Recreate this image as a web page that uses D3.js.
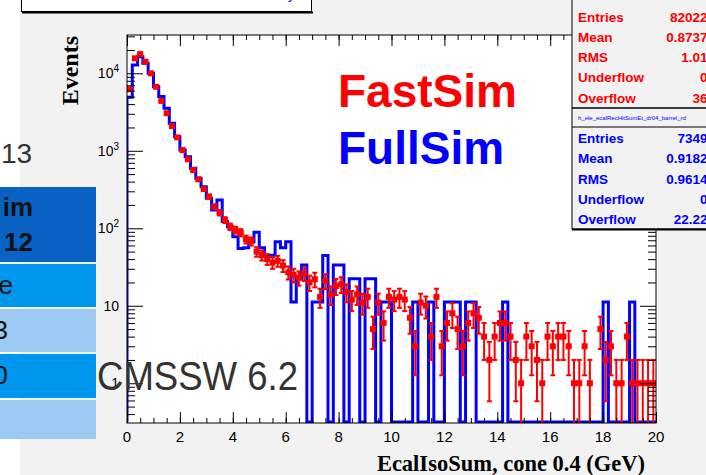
<!DOCTYPE html>
<html>
<head>
<meta charset="utf-8">
<script src="https://cdn.jsdelivr.net/npm/d3@7"></script>
<style>
  body { margin: 0; background: #fff; }
  svg { display: block; }
</style>
</head>
<body>
<div id="chart"></div>
<script>
// 100 bins of 0.2 GeV between 0 and 20
var binWidth = 0.2;
var xRange = [0, 20];
var yRange = [0.307, 31200];

// FullSim (blue), normalised to FastSim entries
var fullSim = [4900, 12800, 16400, 13500, 10000, 6700, 5000, 3530, 2265, 1520,
               1020, 840, 595, 442, 344, 244, 172, 232, 122, 105,
               78, 55, 56, 67, 89, 56, 45, 45, 67, 56,
               67, 11.2, 22.3, 33.5, 0, 11.2, 11.2, 44.6, 0, 33.5,
               33.5, 0, 22.3, 22.3, 0, 22.3, 22.3, 0, 11.2, 11.2,
               0, 0, 0, 0, 11.2, 0, 0, 11.2, 0, 0,
               11.2, 11.2, 11.2, 0, 11.2, 11.2, 0, 0, 0, 0,
               0, 11.2, 0, 0, 0, 0, 0, 0, 0, 0,
               0, 0, 0, 0, 0, 0, 0, 0, 0, 0,
               11.2, 0, 0, 0, 0, 11.2, 0, 0, 0, 0];

// FastSim (red) counts, error = sqrt(N)
var fastSim = [6220, 15600, 17700, 14100, 10000, 6700, 4400, 3050, 2090, 1490,
               1020, 776, 565, 428, 321, 256, 190, 159, 128, 105,
               95, 88, 72, 68, 50, 45, 40, 36, 38, 33,
               27, 25, 23, 26, 20, 22, 13, 21, 14, 18,
               19, 15, 12, 14, 11, 13, 5, 11, 6, 13,
               12, 13, 12, 7, 3, 11, 10, 4, 13, 3,
               6, 8, 5, 3, 6, 8, 7, 4, 2, 4,
               6, 6, 4, 2, 1, 4, 3, 2, 1, 4,
               3, 4, 4, 3, 1, 1, 3, 1, 0, 5,
               2, 3, 1, 1, 4, 1, 1, 1, 1, 1];

var xMajorTicks = [0, 2, 4, 6, 8, 10, 12, 14, 16, 18, 20];
var yMajorTicks = [1, 10, 100, 1000, 10000];
var yTickLabels = [["1", ""], ["10", ""], ["10", "2"], ["10", "3"], ["10", "4"]];

var fastStats = [["Entries", "82022"], ["Mean", "0.8737"], ["RMS", "1.01"], ["Underflow", "0"], ["Overflow", "36"]];
var fullStats = [["Entries", "7349"], ["Mean", "0.9182"], ["RMS", "0.9614"], ["Underflow", "0"], ["Overflow", "22.22"]];
var statsTitle = "h_ele_ecalRecHitSumEt_dr04_barrel_rd";

var W = 706, H = 475;
var frame = { left: 127, right: 656, top: 35, bottom: 423 };
var red = "#ff0000", blue = "#0000ff";
var sans = "'Liberation Sans', Arial, sans-serif";
var serif = "'Liberation Serif', 'Times New Roman', serif";

var svg = d3.select("#chart").append("svg").attr("width", W).attr("height", H);

// slide + ROOT canvas background
svg.append("rect").attr("width", W).attr("height", H).attr("fill", "#fff");
svg.append("rect").attr("x", 20).attr("y", 0).attr("width", W - 20).attr("height", H).attr("fill", "#f2f2f2");

// title box (cut at top)
svg.append("rect").attr("x", 21.5).attr("y", -10).attr("width", 290).attr("height", 21.5)
    .attr("fill", "#fff").attr("stroke", "#000").attr("stroke-width", 1);
svg.append("line").attr("x1", 22).attr("x2", 313).attr("y1", 12.5).attr("y2", 12.5)
    .attr("stroke", "#000").attr("stroke-width", 2);
svg.append("text").attr("x", 288).attr("y", -1).attr("fill", blue)
    .style("font", "14px " + sans).text("y");

// plot area
svg.append("rect").attr("x", frame.left).attr("y", frame.top)
    .attr("width", frame.right - frame.left).attr("height", frame.bottom - frame.top)
    .attr("fill", "#fff");

var x = d3.scaleLinear().domain(xRange).range([frame.left, frame.right]);
var y = d3.scaleLog().domain(yRange).range([frame.bottom, frame.top]);

svg.append("clipPath").attr("id", "clip").append("rect")
    .attr("x", frame.left).attr("y", frame.top)
    .attr("width", frame.right - frame.left).attr("height", frame.bottom - frame.top);

var plot = svg.append("g").attr("clip-path", "url(#clip)");

// blue histogram line
var yb = frame.bottom - 1;
var pts = [[x(0), yb]];
fullSim.forEach(function (v, i) {
    var yy = v > 0 ? y(v) : yb;
    pts.push([x(i * binWidth), yy]);
    pts.push([x((i + 1) * binWidth), yy]);
});
pts.push([x(xRange[1]), yb]);
plot.append("path").attr("d", d3.line()(pts))
    .attr("fill", "none").attr("stroke", blue).attr("stroke-width", 3)
    .attr("stroke-linejoin", "miter");

// red points with errors
var bins = fastSim.map(function (n, i) { return { i: i, n: n }; }).filter(function (d) { return d.n > 0; });
var pg = plot.append("g").attr("stroke", red).attr("stroke-width", 2);
bins.forEach(function (d) {
    var cx = x((d.i + 0.5) * binWidth);
    var cy = y(d.n);
    var e = Math.sqrt(d.n);
    var lo = d.n - e > yRange[0] ? y(d.n - e) : frame.bottom + 2;
    var hi = y(d.n + e);
    pg.append("line").attr("x1", x(d.i * binWidth)).attr("x2", x((d.i + 1) * binWidth))
        .attr("y1", cy).attr("y2", cy);
    pg.append("line").attr("x1", cx).attr("x2", cx).attr("y1", lo).attr("y2", hi);
    pg.append("line").attr("x1", cx - 2.5).attr("x2", cx + 2.5).attr("y1", hi).attr("y2", hi);
    if (lo < frame.bottom) {
        pg.append("line").attr("x1", cx - 2.5).attr("x2", cx + 2.5).attr("y1", lo).attr("y2", lo);
    }
    plot.append("rect").attr("x", cx - 3).attr("y", cy - 3).attr("width", 6).attr("height", 6)
        .attr("fill", red);
});

// axes: ticks on all four sides
var xMinor = d3.range(0, 41).map(function (k) { return k * 0.5; });
var yMinor = [];
[0.1, 1, 10, 100, 1000, 10000].forEach(function (dec) {
    for (var k = 2; k <= 9; k++) {
        var v = dec * k;
        if (v >= yRange[0] && v <= yRange[1]) yMinor.push(v);
    }
});

function axisStyle(g) {
    g.select(".domain").remove();
    g.selectAll("line").attr("stroke", "#000").attr("stroke-width", 1);
}
svg.append("g").attr("transform", "translate(0," + frame.bottom + ")")
    .call(d3.axisTop(x).tickValues(xMinor).tickSize(5).tickFormat("")).call(axisStyle);
svg.append("g").attr("transform", "translate(0," + frame.bottom + ")")
    .call(d3.axisTop(x).tickValues(xMajorTicks).tickSize(11).tickFormat("")).call(axisStyle);
svg.append("g").attr("transform", "translate(0," + frame.top + ")")
    .call(d3.axisBottom(x).tickValues(xMinor).tickSize(5).tickFormat("")).call(axisStyle);
svg.append("g").attr("transform", "translate(0," + frame.top + ")")
    .call(d3.axisBottom(x).tickValues(xMajorTicks).tickSize(11).tickFormat("")).call(axisStyle);
svg.append("g").attr("transform", "translate(" + frame.left + ",0)")
    .call(d3.axisRight(y).tickValues(yMinor).tickSize(8).tickFormat("")).call(axisStyle);
svg.append("g").attr("transform", "translate(" + frame.left + ",0)")
    .call(d3.axisRight(y).tickValues(yMajorTicks).tickSize(16).tickFormat("")).call(axisStyle);
svg.append("g").attr("transform", "translate(" + frame.right + ",0)")
    .call(d3.axisLeft(y).tickValues(yMinor).tickSize(8).tickFormat("")).call(axisStyle);
svg.append("g").attr("transform", "translate(" + frame.right + ",0)")
    .call(d3.axisLeft(y).tickValues(yMajorTicks).tickSize(16).tickFormat("")).call(axisStyle);

svg.append("rect").attr("x", frame.left).attr("y", frame.top)
    .attr("width", frame.right - frame.left).attr("height", frame.bottom - frame.top)
    .attr("fill", "none").attr("stroke", "#000").attr("stroke-width", 1);

// tick labels
svg.append("g").selectAll("text").data(xMajorTicks).enter().append("text")
    .attr("x", function (d) { return x(d); }).attr("y", 442)
    .attr("text-anchor", "middle").style("font", "15px " + sans).text(function (d) { return d; });

yMajorTicks.forEach(function (v, i) {
    var t = svg.append("text").attr("x", 119).attr("y", y(v) + 5)
        .attr("text-anchor", "end").style("font", "14px " + sans);
    t.append("tspan").text(yTickLabels[i][0]);
    if (yTickLabels[i][1]) {
        t.append("tspan").attr("dy", -6).style("font-size", "10px").text(yTickLabels[i][1]);
    }
});

// axis titles
svg.append("text").attr("x", 645).attr("y", 471).attr("text-anchor", "end")
    .style("font", "bold 22.5px " + serif).text("EcalIsoSum, cone 0.4 (GeV)");
svg.append("text").attr("transform", "translate(78," + (frame.top + 1) + ") rotate(-90)")
    .attr("text-anchor", "end").style("font", "bold 24px " + serif).text("Events");

// legend-like labels
svg.append("text").attr("x", 338).attr("y", 107).attr("fill", red)
    .style("font", "bold 46px " + sans).text("FastSim");
svg.append("text").attr("x", 338).attr("y", 164).attr("fill", blue)
    .style("font", "bold 46px " + sans).text("FullSim");

// stats boxes
var sx = 572;
svg.append("rect").attr("x", sx).attr("y", -5).attr("width", 150).attr("height", 234)
    .attr("fill", "#f2f2f2").attr("stroke", "#000").attr("stroke-width", 1);
svg.append("line").attr("x1", sx).attr("x2", W).attr("y1", 229.5).attr("y2", 229.5)
    .attr("stroke", "#000").attr("stroke-width", 2);
svg.append("line").attr("x1", sx).attr("x2", W).attr("y1", 108).attr("y2", 108)
    .attr("stroke", "#000").attr("stroke-width", 1.5);
svg.append("line").attr("x1", sx).attr("x2", W).attr("y1", 127).attr("y2", 127)
    .attr("stroke", "#000").attr("stroke-width", 1);
svg.append("text").attr("x", 578).attr("y", 119.5).attr("fill", blue)
    .style("font", "6px " + sans).text(statsTitle);

function statsRows(rows, y0, color) {
    rows.forEach(function (r, i) {
        var yy = y0 + i * 20.3;
        svg.append("text").attr("x", 578).attr("y", yy).attr("fill", color)
            .style("font", "bold 13.5px " + sans).text(r[0]);
        svg.append("text").attr("x", 707.5).attr("y", yy).attr("fill", color).attr("text-anchor", "end")
            .style("font", "bold 13.5px " + sans).text(r[1]);
    });
}
statsRows(fastStats, 21.5, red);
statsRows(fullStats, 143, blue);

// slide table on the left (partly hidden)
var cells = [[187, 262, "#0a62c4"], [264, 307, "#0096ee"], [309, 352, "#9ccaf3"], [354, 398, "#0096ee"], [400, 439, "#9ccaf3"]];
cells.forEach(function (c) {
    svg.append("rect").attr("x", 0).attr("y", c[0]).attr("width", 96).attr("height", c[1] - c[0]).attr("fill", c[2]);
});
svg.append("text").attr("x", 33).attr("y", 216).attr("text-anchor", "end")
    .style("font", "bold 26px " + sans).attr("fill", "#111").text("im");
svg.append("text").attr("x", 33).attr("y", 251).attr("text-anchor", "end")
    .style("font", "bold 26px " + sans).attr("fill", "#111").text("12");
svg.append("text").attr("x", 13).attr("y", 294).attr("text-anchor", "end")
    .style("font", "26px " + sans).attr("fill", "#111").text("e");
svg.append("text").attr("x", 8).attr("y", 339).attr("text-anchor", "end")
    .style("font", "26px " + sans).attr("fill", "#111").text("3");
svg.append("text").attr("x", 8).attr("y", 384).attr("text-anchor", "end")
    .style("font", "26px " + sans).attr("fill", "#111").text("0");
svg.append("text").attr("x", 1).attr("y", 163)
    .style("font", "28px " + sans).attr("fill", "#333").text("13");

svg.append("text").attr("x", 97).attr("y", 390).attr("fill", "#333")
    .attr("textLength", 201).attr("lengthAdjust", "spacingAndGlyphs")
    .style("font", "40px " + sans).text("CMSSW 6.2");
</script>
</body>
</html>
